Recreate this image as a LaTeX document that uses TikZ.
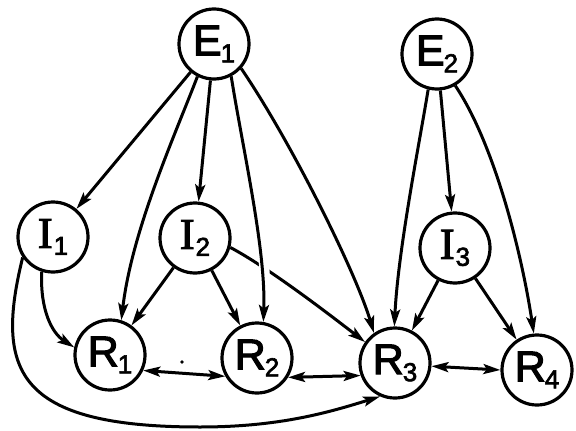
\documentclass[tikz,border=0pt]{standalone}
\usepackage{fontspec}
\setmainfont{Liberation Sans}
\newfontfamily\lblfont{Liberation Sans}[FakeBold=2.5]
\newfontfamily\serifI{Liberation Serif}[FakeBold=2.5]
\usetikzlibrary{arrows.meta}
\newcommand{\lbl}[2]{{\lblfont\fontsize{43}{43}\selectfont #1}\kern-1pt\raisebox{-7pt}{\lblfont\fontsize{26}{26}\selectfont #2}}
\newcommand{\lblI}[1]{{\serifI\fontsize{44}{44}\selectfont I}\kern1pt\raisebox{-7pt}{\lblfont\fontsize{26}{26}\selectfont #1}}
\tikzset{
  stnode/.style={circle, draw, line width=3.2pt, minimum size=70pt, inner sep=0pt, fill=white},
  arr/.style={line width=3pt, -{Stealth[length=17pt,width=10pt,inset=3.5pt]}},
  darr/.style={line width=3pt, {Stealth[length=17pt,width=10pt,inset=3.5pt]}-{Stealth[length=17pt,width=10pt,inset=3.5pt]}},
  gap/.style={white, line width=10pt, shorten <=40pt, shorten >=40pt}
}
\begin{document}
\begin{tikzpicture}[x=1pt,y=-1pt]
\useasboundingbox (0,0) rectangle (576,431);
% nodes
\node[stnode] (E1) at (214,44) {\lbl{E}{1}};
\node[stnode] (E2) at (437,54) {\lbl{E}{2}};
\node[stnode] (I1) at (53,237) {\lblI{1}};
\node[stnode] (I2) at (195,238) {\lblI{2}};
\node[stnode] (I3) at (455,248) {\lblI{3}};
\node[stnode] (R1) at (110,355) {\lbl{R}{1}};
\node[stnode] (R2) at (257,358) {\lbl{R}{2}};
\node[stnode] (R3) at (395,363) {\lbl{R}{3}};
\node[stnode] (R4) at (537,370) {\lbl{R}{4}};
% edges from E1
\draw[arr] (E1) -- (I1);
\draw[arr] (E1.243) .. controls (175,135) and (132,230) .. (R1.72);
\draw[arr] (E1) -- (I2);
\draw[arr] (E1.318) .. controls (290,140) and (355,270) .. (R3.125);
% I2 -> R3 (crossed by E1 -> R2)
\draw[arr] (I2.345) .. controls (269,268) and (330,315) .. (R3.145);
\draw[gap] (E1.298) .. controls (243,150) and (266,250) .. (R2.80);
\draw[arr] (E1.298) .. controls (243,150) and (266,250) .. (R2.80);
% from I1
\draw[arr] (I1.252) .. controls (40,310) and (52,333) .. (R1.168);
\draw[arr] (I1.214) .. controls (-5,370) and (15,427) .. (200,427)
  .. controls (280,427) and (330,412) .. (R3.246);
% from I2
\draw[arr] (I2) -- (R1);
\draw[arr] (I2) -- (R2);
% from E2
\draw[arr] (E2.256) .. controls (420,140) and (398,250) .. (R3.91);
\draw[arr] (E2) -- (I3);
\draw[arr] (E2.300) .. controls (495,145) and (522,255) .. (R4.95);
% from I3
\draw[arr] (I3) -- (R3);
\draw[arr] (I3) -- (R4);
% double arrows
\draw[darr] (R1.335) -- (R2.210);
\draw[darr] (R2.328) -- (R3.200);
\draw[darr] (R3.355) -- (R4.180);
% small dot
\fill (182,362) circle (1.8pt);
\end{tikzpicture}
\end{document}
